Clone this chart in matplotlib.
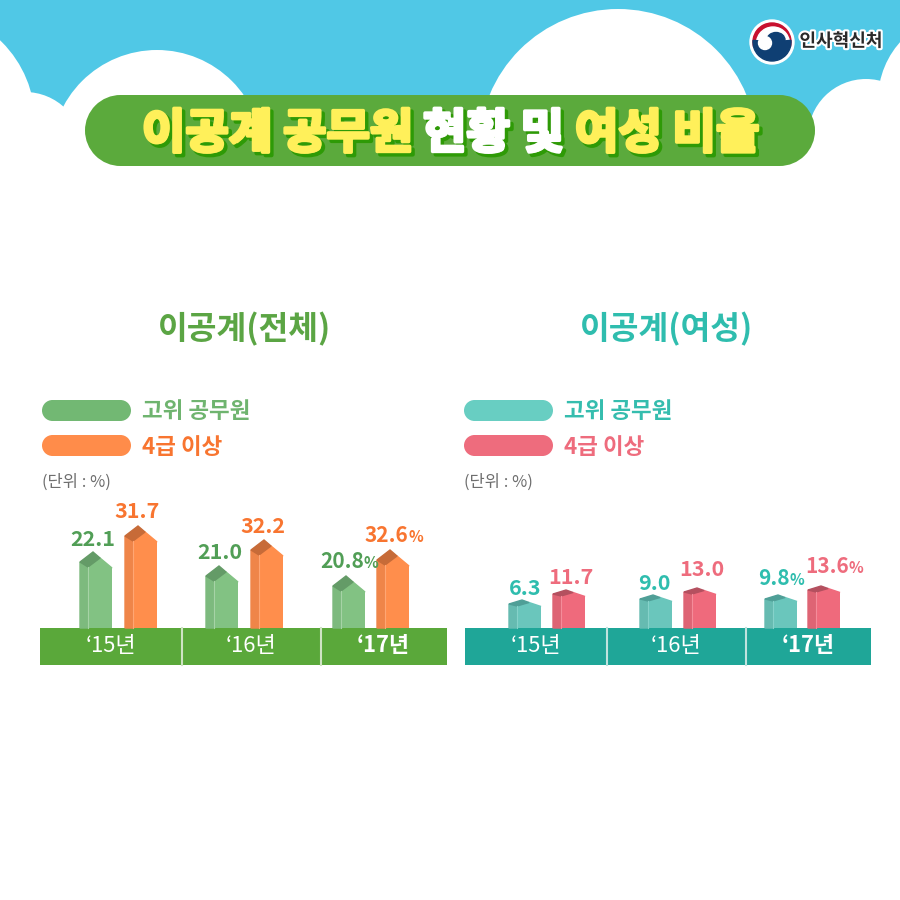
import matplotlib
matplotlib.use('Agg')
import matplotlib.pyplot as plt
import matplotlib.patheffects as pe
from matplotlib.patches import Circle, Ellipse, Polygon, Rectangle, Wedge

plt.rcParams['font.family'] = ['Noto Sans CJK KR', 'DejaVu Sans']

# data
years = ['\u201815년', '\u201816년', '\u201817년']
total_labels = ['22.1', '31.7', '21.0', '32.2', '20.8%', '32.6%']
female_labels = ['6.3', '11.7', '9.0', '13.0', '9.8%', '13.6%']
# bar heights as drawn in the picture (not to scale with the values), px above the band
total_high = [76, 62, 52]
total_g4 = [102, 88, 78]
female_high = [28, 33, 33]
female_g4 = [38, 40, 42]

BASE = 628
BAND_H = 37

fig = plt.figure(figsize=(9, 9), dpi=100)
ax = fig.add_axes([0, 0, 1, 1])
ax.set_xlim(0, 900)
ax.set_ylim(900, 0)
ax.axis('off')
renderer = fig.canvas.get_renderer()


def pill(x0, x1, y0, y1, color, zorder):
    r = (y1 - y0) / 2
    body = Rectangle((x0 + r, y0), x1 - x0 - 2 * r, y1 - y0, color=color, lw=0, zorder=zorder)
    body.set_snap(False)
    ax.add_patch(body)
    ax.add_patch(Circle((x0 + r, y0 + r), r, color=color, lw=0, zorder=zorder))
    ax.add_patch(Circle((x1 - r, y0 + r), r, color=color, lw=0, zorder=zorder))


# sky and clouds
ax.add_patch(Rectangle((0, 0), 900, 125, color='#50C8E6', lw=0, zorder=0))
clouds = [(-78, 122, 113), (25, 150, 58), (157, 156, 106), (618, 148, 139),
          (866, 137, 58), (965, 100, 87)]
for cx, cy, r in clouds:
    ax.add_patch(Circle((cx, cy), r, color='white', lw=0, zorder=1))

# title pill
pill(85, 815, 95, 166, '#5BAA3C', 2)


def title_part(x, s, color):
    t = ax.text(x, 134, s, color=color, fontsize=34, fontweight='bold', ha='left', va='center', zorder=4)
    t.set_path_effects([pe.Stroke(linewidth=3, foreground='#2E9A06', offset=(2.2, -2.2)),
                        pe.withStroke(linewidth=2.5, foreground=color)])


title_part(142, '이공계 공무원', '#FFF05A')
title_part(423, '현황 및', 'white')
title_part(575, '여성 비율', '#FFF05A')

# logo
LX, LY = 772, 42
ax.add_patch(Circle((LX, LY), 22, color='white', zorder=3))
ax.add_patch(Wedge((LX, LY), 19, 165, 375, color='#C8102E', zorder=4))
ax.add_patch(Wedge((LX + 1, LY + 1.5), 16.5, 165, 375, color='white', zorder=5))
ax.add_patch(Wedge((LX, LY), 19, -5, 185, color='#0F3F73', zorder=5))
ax.add_patch(Ellipse((LX + 4, LY - 2), 18, 15, color='#0F3F73', zorder=6))
ax.add_patch(Circle((LX - 7, LY + 1), 6.5, color='white', zorder=7))
t = ax.text(841, 41, '인사혁신처', fontsize=13, fontweight='bold', color='#2A2A2A', ha='center', va='center', zorder=6)
t.set_path_effects([pe.withStroke(linewidth=3, foreground='white')])


def draw_bar(x, h, front, side, top, ridge, drops):
    # x = left edge, h = height to the peak; drops = how far roof points lie below the peak
    left, mid, right, shoulder = drops
    y = BASE - h
    ax.bar(x, BASE - y - shoulder, width=32, bottom=y + shoulder, align='edge', color=front, zorder=3)
    ax.add_patch(Polygon([(x + 8, y + mid), (x + 20, y + right), (x + 32, y + shoulder), (x + 8, y + shoulder)],
                         color=front, zorder=3))
    ax.add_patch(Polygon([(x, BASE), (x, y + left), (x + 8, y + mid), (x + 8, BASE)], color=side, zorder=4))
    ax.add_patch(Polygon([(x, y + left), (x + 13, y), (x + 20, y + right), (x + 8, y + mid)], color=top, zorder=4))
    ax.plot([x + 8, x + 8], [y + mid, BASE], color=ridge, lw=0.8, zorder=5)


def draw_value(x, y, s, color):
    num = s.rstrip('%')
    size = 15 if s.endswith('%') else 15.5
    t = ax.text(x, y, num, fontsize=size, fontweight='bold', color=color, ha='left', va='baseline', zorder=6)
    if s.endswith('%'):
        bb = t.get_window_extent(renderer)
        ax.text(bb.x1, y, '%', fontsize=11, fontweight='bold', color=color, ha='left', va='baseline', zorder=6)


def draw_head(x0, cx, title, title_color, high_c, g4_c, high_txt, g4_txt):
    ax.text(cx, 329, title, fontsize=23.3, fontweight='bold', color=title_color, ha='center', va='center')
    for y, c, tc, s in [(411, high_c, high_txt, '고위 공무원'), (446, g4_c, g4_txt, '4급 이상')]:
        pill(x0, x0 + 89, y - 11, y + 10, c, 3)
        ax.text(x0 + 100, y + 1, s, fontsize=16.2, fontweight='bold', color=tc, ha='left', va='center')
    ax.text(x0, 482, '(단위 : %)', fontsize=11.9, color='#6E6E6E', ha='left', va='center')


def draw_band(edges, color, sep):
    for i, yr in enumerate(years):
        ax.add_patch(Rectangle((edges[i], BASE), edges[i + 1] - edges[i], BAND_H, color=color, lw=0, zorder=3))
        ax.text((edges[i] + edges[i + 1]) / 2 - 0.5, 646, yr, color='white', fontsize=15.8,
                fontweight='bold' if i == 2 else 'normal', ha='center', va='center', zorder=5)
    for e in edges[1:3]:
        ax.plot([e, e], [BASE, BASE + BAND_H], color=sep, lw=1.5, zorder=4)


TALL = (10, 15, 6, 16)
FLAT = (4, 6, 2.5, 6.5)

# left panel
draw_head(42, 244, '이공계(전체)', '#5BA544', '#72B873', '#FF8C4A', '#6FB46F', '#F87530')
draw_band([40, 182, 321, 446.5], '#5AA83A', '#CFE3C4')
total_x = [(80, 125), (206, 251), (333, 377)]
total_label_xy = [(70, 546), (114, 518), (197, 559), (240, 533), (320, 568), (365, 542)]
for i in range(3):
    draw_bar(total_x[i][0], total_high[i], '#82C283', '#7DBA7E', '#649B67', '#A6D3A6', TALL)
    draw_bar(total_x[i][1], total_g4[i], '#FF8E4C', '#EF8549', '#C76B38', '#FFA673', TALL)
for i, s in enumerate(total_labels):
    c = '#519E56' if i % 2 == 0 else '#F87530'
    draw_value(total_label_xy[i][0], total_label_xy[i][1], s, c)

# right panel
draw_head(464, 667, '이공계(여성)', '#2FBDAE', '#68CEC2', '#EE6C7D', '#35BDAE', '#EE6C7D')
draw_band([465, 607, 746, 871], '#1FA698', '#BFE3DE')
female_x = [(509, 553), (640, 684), (765, 808)]
female_label_xy = [(509, 595), (548, 584), (638, 590), (679, 576), (758, 585), (805, 573)]
for i in range(3):
    draw_bar(female_x[i][0], female_high[i], '#6AC6BC', '#66BBB1', '#4F9F97', '#86D2CA', FLAT)
    draw_bar(female_x[i][1], female_g4[i], '#EF6A7C', '#DE6474', '#B4505F', '#F48C9A', FLAT)
for i, s in enumerate(female_labels):
    c = '#2FBDAE' if i % 2 == 0 else '#EE6C7D'
    draw_value(female_label_xy[i][0], female_label_xy[i][1], s, c)

fig.savefig('out.png', dpi=100)
